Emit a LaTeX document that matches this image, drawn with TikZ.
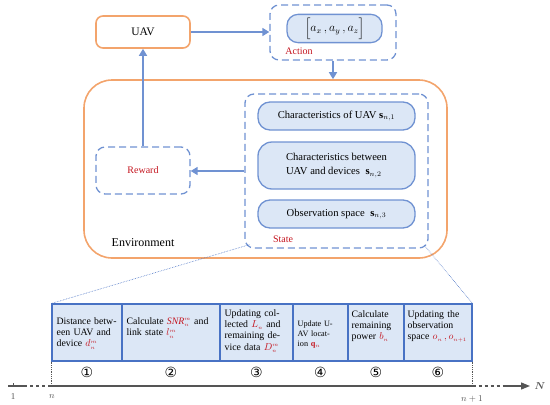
\documentclass[tikz,border=0pt]{standalone}
\usepackage{amsmath,bm}
\usepackage{fontspec}
\setmainfont{Liberation Serif}
\newfontfamily\symfont{DejaVu Sans}
\usetikzlibrary{arrows.meta,calc}
\definecolor{myblue}{RGB}{112,146,210}
\definecolor{mylight}{RGB}{220,231,246}
\definecolor{myorange}{RGB}{243,164,108}
\definecolor{mytab}{RGB}{72,114,196}
\definecolor{myred}{RGB}{196,20,30}
\definecolor{myaxis}{RGB}{85,85,85}
\newcommand{\tinyidx}[1]{{\scriptscriptstyle #1}}
\begin{document}
\begin{tikzpicture}[x=1pt,y=-1pt,
  orangebox/.style={draw=myorange, line width=1.6pt, rounded corners=7pt},
  dashbox/.style={draw=myblue, line width=1.3pt, dash pattern=on 7pt off 4pt, rounded corners=9pt},
  pill/.style={draw=myblue, fill=mylight, line width=1.3pt, rounded corners=12pt},
  flow/.style={draw=myblue, line width=1.6pt, -{Triangle[width=8pt,length=7pt]}},
  cell/.style={draw=mytab, fill=mylight, line width=1.1pt, minimum height=57pt},
  celltext/.style={anchor=base west, inner sep=0pt, align=left, font=\fontsize{9.8}{11.2}\selectfont},
  redlab/.style={text=myred, font=\fontsize{10}{12}\selectfont},
  circnum/.style={font=\symfont\fontsize{14}{15}\selectfont},
  zoomline/.style={draw=mytab, densely dotted, line width=0.6pt},
  axisline/.style={draw=myaxis, line width=1.3pt},
  guide/.style={draw=myaxis, densely dotted, line width=0.8pt},
  axlab/.style={font=\fontsize{9}{10}\selectfont, text=myaxis}
]
\useasboundingbox (0,0) rectangle (550,405);

% environment
\node[draw=myorange, line width=1.6pt, rounded corners=28pt, minimum width=363pt, minimum height=178pt] (env) at (265.5,169) {};
\node[font=\fontsize{12}{14}\selectfont] (envlab) at (143,243) {Environment};

% UAV
\node[orangebox, minimum width=94pt, minimum height=32pt, font=\fontsize{11.5}{13}\selectfont] (uav) at (143,32) {UAV};

% action
\node[dashbox, minimum width=126pt, minimum height=55pt] (action) at (333,32.5) {};
\node[pill, minimum width=95pt, minimum height=27pt, rounded corners=11pt, font=\fontsize{12}{14}\selectfont] (act) at (334.5,28.5) {$\Big[a_x\,, a_y\,, a_z\Big]$};
\node[redlab] (actlab) at (299,51) {Action};

% state
\node[dashbox, minimum width=183pt, minimum height=154pt] (state) at (336.5,171) {};
\node[pill, minimum width=157pt, minimum height=28pt, font=\fontsize{10.6}{12}\selectfont] (s1) at (336.5,116) {Characteristics of UAV $\mathbf{s}_{n,1}$};
\node[pill, minimum width=157pt, minimum height=47pt, rounded corners=14pt, align=left, font=\fontsize{10.6}{14.5}\selectfont] (s2) at (336.5,165.5) {Characteristics between\\UAV and devices \;$\mathbf{s}_{n,2}$};
\node[pill, minimum width=157pt, minimum height=28pt, font=\fontsize{10.6}{12}\selectfont] (s3) at (336.5,214) {Observation space \;$\mathbf{s}_{n,3}$};
\node[redlab] (statelab) at (283,239) {State};

% reward
\node[dashbox, minimum width=94pt, minimum height=47pt] (reward) at (143,170.5) {};
\node[redlab] (rewlab) at (reward.center) {Reward};

% flows
\draw[flow] (uav.east) -- (action.west |- uav.east);
\draw[flow] (action.south) -- (action.south |- env.north);
\draw[flow] (state.west) -- (reward.east |- state.west);
\draw[flow] (reward.north) -- (uav.south);

% table cells
\node[cell, minimum width=70pt] (c1) at (87,332.5) {};
\node[cell, minimum width=98pt] (c2) at (171,332.5) {};
\node[cell, minimum width=73pt] (c3) at (256.5,332.5) {};
\node[cell, minimum width=55pt] (c4) at (320.5,332.5) {};
\node[cell, minimum width=56pt] (c5) at (376,332.5) {};
\node[cell, minimum width=68pt] (c6) at (438,332.5) {};

\node[celltext, text width=64pt] (t1) at ($(c1.north west)+(5,21)$) {Distance betw-\\een UAV and\\device \textcolor{myred}{$d_{\tinyidx{n}}^{\tinyidx{m}}$}};
\node[celltext, text width=92pt] (t2) at ($(c2.north west)+(5,21)$) {Calculate \textcolor{myred}{$\mathit{SNR}_{\tinyidx{n}}^{\tinyidx{m}}$} and\\link state \textcolor{myred}{$l_{\tinyidx{n}}^{\tinyidx{m}}$}};
\node[celltext, text width=68pt] (t3) at ($(c3.north west)+(5,13)$) {Updating col-\\lected \textcolor{myred}{$L_{\tinyidx{n}}$} and\\remaining de-\\vice data \textcolor{myred}{$D_{\tinyidx{n}}^{\tinyidx{m}}$}};
\node[celltext, text width=50pt, font=\fontsize{8.2}{10}\selectfont] (t4) at ($(c4.north west)+(5,23)$) {Update U-\\AV locat-\\ion \textcolor{myred}{$\mathbf{q}_{\tinyidx{n}}$}};
\node[celltext, text width=52pt] (t5) at ($(c5.north west)+(4,14)$) {Calculate\\remaining\\power \textcolor{myred}{$b_{\tinyidx{n}}$}};
\node[celltext, text width=64pt] (t6) at ($(c6.north west)+(4,14)$) {Updating the\\observation\\space \textcolor{myred}{$o_{\tinyidx{n}}\,, o_{\tinyidx{n+1}}$}};

\foreach \i/\s in {1/①,2/②,3/③,4/④,5/⑤,6/⑥}{
  \node[circnum] (k\i) at ($(c\i.south)+(0,11)$) {\s};
}

% zoom lines
\coordinate (zl) at ($(state.south west)+(5,-4)$);
\coordinate (zr) at ($(state.south east)+(-4,-3)$);
\draw[zoomline] (zl) -- (c1.north west);
\draw[zoomline] (zr) -- (c6.north east);

% axis
\coordinate (a0) at (8,386);
\coordinate (a1) at (24,386);
\coordinate (an) at (c1.south west |- a0);
\coordinate (am) at (c6.south east |- a0);
\coordinate (a2) at (505,386);
\coordinate (a3) at (530,386);
\coordinate (tk) at (13,386);
\draw[axisline] (a0) -- (a1);
\draw[axisline, dash pattern=on 3pt off 3pt] (a1) -- (an);
\draw[axisline] (an) -- (am);
\draw[axisline, dash pattern=on 3pt off 3pt] (am) -- (a2);
\draw[axisline, -{Triangle[width=7pt,length=9pt]}] (a2) -- (a3);
\draw[draw=myaxis, line width=0.8pt] (tk) -- ++(0,-3);
\draw[guide] (c1.south west) -- (an);
\draw[guide] (c6.south east) -- (am);
\node[axlab] (l1) at (13,397) {1};
\node[axlab] (ln) at (52,397) {$n$};
\node[axlab] (lm) at (472,399) {$n+1$};
\node[font=\fontsize{10}{12}\selectfont, text=myaxis] (lN) at (540,386) {$\bm{N}$};
\end{tikzpicture}
\end{document}
